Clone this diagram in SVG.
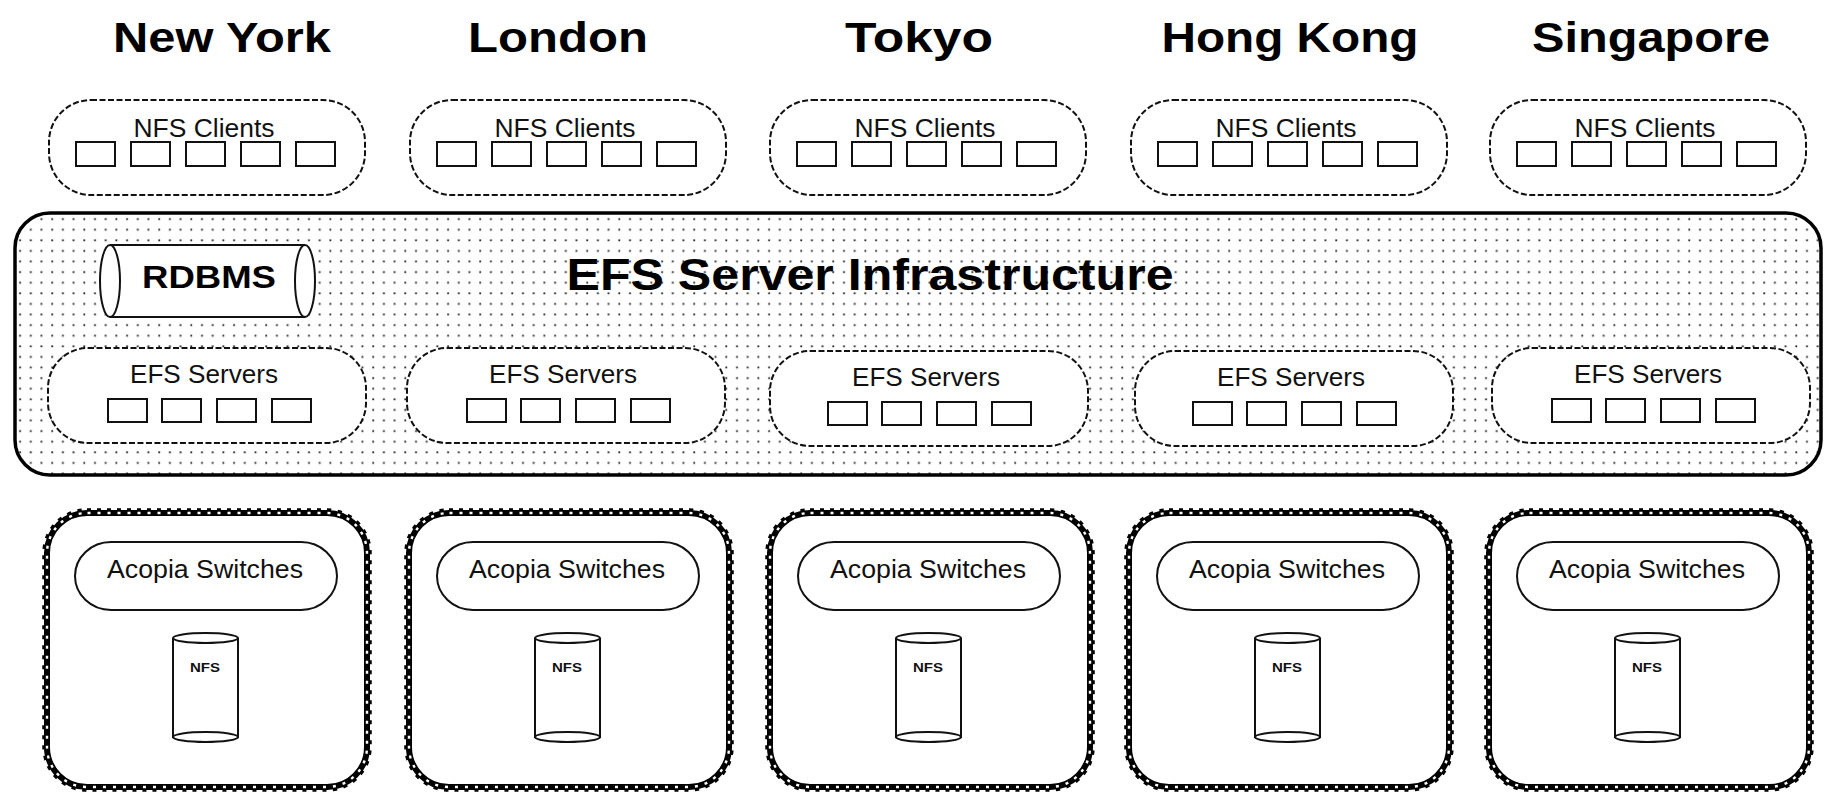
<svg xmlns="http://www.w3.org/2000/svg" width="1824" height="794" viewBox="0 0 1824 794">
<defs>
<pattern id="dots" x="15" y="213" width="10.7" height="10.6" patternUnits="userSpaceOnUse">
<rect width="10.7" height="10.6" fill="#fff"/>
<rect x="4.2" y="5.2" width="1.8" height="1.8" fill="#222"/>
</pattern>
<style>
.title{font-family:"Liberation Sans",Arial,sans-serif;font-weight:bold;font-size:43px;fill:#000;text-anchor:middle}
.lbl{font-family:"Liberation Sans",Arial,sans-serif;font-size:25px;fill:#111;text-anchor:middle}
.big{font-family:"Liberation Sans",Arial,sans-serif;font-weight:bold;font-size:44px;fill:#000;text-anchor:middle}
.db{font-family:"Liberation Sans",Arial,sans-serif;font-weight:bold;font-size:32px;fill:#000;text-anchor:middle}
.nfs{font-family:"Liberation Sans",Arial,sans-serif;font-weight:bold;font-size:13px;fill:#111;text-anchor:middle}
.dpill{fill:#fff;stroke:#111;stroke-width:2;stroke-dasharray:6 2.5}
.box{fill:#fff;stroke:#111;stroke-width:2}
.solid{fill:#fff;stroke:#111;stroke-width:2}
.chainBump{fill:none;stroke:#000;stroke-width:9.5;stroke-dasharray:4 6}
.chainA{fill:#fff;stroke:#000;stroke-width:6}
.chainB{fill:none;stroke:#fff;stroke-width:2.4;stroke-dasharray:3 7;stroke-dashoffset:-0.5}
</style>
</defs>
<rect width="1824" height="794" fill="#fff"/>

<!-- Titles -->
<g id="titles">
<text class="title" x="222" y="52" textLength="218" lengthAdjust="spacingAndGlyphs">New York</text>
<text class="title" x="558" y="52" textLength="180" lengthAdjust="spacingAndGlyphs">London</text>
<text class="title" x="919" y="52" textLength="148" lengthAdjust="spacingAndGlyphs">Tokyo</text>
<text class="title" x="1290" y="52" textLength="257" lengthAdjust="spacingAndGlyphs">Hong Kong</text>
<text class="title" x="1651" y="52" textLength="238" lengthAdjust="spacingAndGlyphs">Singapore</text>
</g>

<!-- NFS Clients -->
<g id="nfs-clients-ny" transform="translate(49,100)">
<rect class="dpill" x="0" y="0" width="316" height="95" rx="42"/>
<text class="lbl" x="155" y="37" textLength="141" lengthAdjust="spacingAndGlyphs">NFS Clients</text>
<rect class="box" x="27" y="42" width="39" height="24"/><rect class="box" x="82" y="42" width="39" height="24"/><rect class="box" x="137" y="42" width="39" height="24"/><rect class="box" x="192" y="42" width="39" height="24"/><rect class="box" x="247" y="42" width="39" height="24"/>
</g>
<g id="nfs-clients-london" transform="translate(410,100)">
<rect class="dpill" x="0" y="0" width="316" height="95" rx="42"/>
<text class="lbl" x="155" y="37" textLength="141" lengthAdjust="spacingAndGlyphs">NFS Clients</text>
<rect class="box" x="27" y="42" width="39" height="24"/><rect class="box" x="82" y="42" width="39" height="24"/><rect class="box" x="137" y="42" width="39" height="24"/><rect class="box" x="192" y="42" width="39" height="24"/><rect class="box" x="247" y="42" width="39" height="24"/>
</g>
<g id="nfs-clients-tokyo" transform="translate(770,100)">
<rect class="dpill" x="0" y="0" width="316" height="95" rx="42"/>
<text class="lbl" x="155" y="37" textLength="141" lengthAdjust="spacingAndGlyphs">NFS Clients</text>
<rect class="box" x="27" y="42" width="39" height="24"/><rect class="box" x="82" y="42" width="39" height="24"/><rect class="box" x="137" y="42" width="39" height="24"/><rect class="box" x="192" y="42" width="39" height="24"/><rect class="box" x="247" y="42" width="39" height="24"/>
</g>
<g id="nfs-clients-hk" transform="translate(1131,100)">
<rect class="dpill" x="0" y="0" width="316" height="95" rx="42"/>
<text class="lbl" x="155" y="37" textLength="141" lengthAdjust="spacingAndGlyphs">NFS Clients</text>
<rect class="box" x="27" y="42" width="39" height="24"/><rect class="box" x="82" y="42" width="39" height="24"/><rect class="box" x="137" y="42" width="39" height="24"/><rect class="box" x="192" y="42" width="39" height="24"/><rect class="box" x="247" y="42" width="39" height="24"/>
</g>
<g id="nfs-clients-sg" transform="translate(1490,100)">
<rect class="dpill" x="0" y="0" width="316" height="95" rx="42"/>
<text class="lbl" x="155" y="37" textLength="141" lengthAdjust="spacingAndGlyphs">NFS Clients</text>
<rect class="box" x="27" y="42" width="39" height="24"/><rect class="box" x="82" y="42" width="39" height="24"/><rect class="box" x="137" y="42" width="39" height="24"/><rect class="box" x="192" y="42" width="39" height="24"/><rect class="box" x="247" y="42" width="39" height="24"/>
</g>

<!-- EFS Server Infrastructure -->
<g id="efs-infrastructure">
<rect x="15" y="213" width="1806" height="262" rx="35" fill="url(#dots)" stroke="#000" stroke-width="3.5"/>
<text class="big" x="870" y="290" textLength="607" lengthAdjust="spacingAndGlyphs">EFS Server Infrastructure</text>
</g>

<g id="rdbms">
<rect x="110" y="245" width="195" height="72" fill="#fff"/>
<line x1="110" y1="245" x2="305" y2="245" stroke="#111" stroke-width="2"/>
<line x1="110" y1="317" x2="305" y2="317" stroke="#111" stroke-width="2"/>
<ellipse cx="110" cy="281" rx="10" ry="36" fill="#fff" stroke="#111" stroke-width="2"/>
<ellipse cx="305" cy="281" rx="10" ry="36" fill="#fff" stroke="#111" stroke-width="2"/>
<text class="db" x="209" y="288" textLength="134" lengthAdjust="spacingAndGlyphs">RDBMS</text>
</g>

<g id="efs-servers-ny" transform="translate(48,348)">
<rect class="dpill" x="0" y="0" width="318" height="95" rx="40"/>
<text class="lbl" x="156" y="35" textLength="148" lengthAdjust="spacingAndGlyphs">EFS Servers</text>
<rect class="box" x="60" y="51" width="39" height="23"/><rect class="box" x="114" y="51" width="39" height="23"/><rect class="box" x="169" y="51" width="39" height="23"/><rect class="box" x="224" y="51" width="39" height="23"/>
</g>
<g id="efs-servers-london" transform="translate(407,348)">
<rect class="dpill" x="0" y="0" width="318" height="95" rx="40"/>
<text class="lbl" x="156" y="35" textLength="148" lengthAdjust="spacingAndGlyphs">EFS Servers</text>
<rect class="box" x="60" y="51" width="39" height="23"/><rect class="box" x="114" y="51" width="39" height="23"/><rect class="box" x="169" y="51" width="39" height="23"/><rect class="box" x="224" y="51" width="39" height="23"/>
</g>
<g id="efs-servers-tokyo" transform="translate(770,351)">
<rect class="dpill" x="0" y="0" width="318" height="95" rx="40"/>
<text class="lbl" x="156" y="35" textLength="148" lengthAdjust="spacingAndGlyphs">EFS Servers</text>
<rect class="box" x="58" y="51" width="39" height="23"/><rect class="box" x="112" y="51" width="39" height="23"/><rect class="box" x="167" y="51" width="39" height="23"/><rect class="box" x="222" y="51" width="39" height="23"/>
</g>
<g id="efs-servers-hk" transform="translate(1135,351)">
<rect class="dpill" x="0" y="0" width="318" height="95" rx="40"/>
<text class="lbl" x="156" y="35" textLength="148" lengthAdjust="spacingAndGlyphs">EFS Servers</text>
<rect class="box" x="58" y="51" width="39" height="23"/><rect class="box" x="112" y="51" width="39" height="23"/><rect class="box" x="167" y="51" width="39" height="23"/><rect class="box" x="222" y="51" width="39" height="23"/>
</g>
<g id="efs-servers-sg" transform="translate(1492,348)">
<rect class="dpill" x="0" y="0" width="318" height="95" rx="40"/>
<text class="lbl" x="156" y="35" textLength="148" lengthAdjust="spacingAndGlyphs">EFS Servers</text>
<rect class="box" x="60" y="51" width="39" height="23"/><rect class="box" x="114" y="51" width="39" height="23"/><rect class="box" x="169" y="51" width="39" height="23"/><rect class="box" x="224" y="51" width="39" height="23"/>
</g>

<!-- Acopia sites -->
<g id="acopia-ny" transform="translate(44,510)">
<rect class="chainBump" x="3" y="3" width="320" height="274" rx="40"/>
<rect class="chainA" x="3" y="3" width="320" height="274" rx="40"/>
<rect class="chainB" x="3" y="3" width="320" height="274" rx="40"/>
<rect class="solid" x="31" y="32" width="262" height="68" rx="36" ry="34"/>
<text class="lbl" x="161" y="68" font-size="24" textLength="196" lengthAdjust="spacingAndGlyphs">Acopia Switches</text>
<rect x="129" y="128" width="65" height="100" fill="#fff" stroke="none"/>
<line x1="129" y1="128" x2="129" y2="228" stroke="#111" stroke-width="2"/>
<line x1="194" y1="128" x2="194" y2="228" stroke="#111" stroke-width="2"/>
<ellipse cx="161.5" cy="128" rx="32.5" ry="5" fill="#fff" stroke="#111" stroke-width="2"/>
<ellipse cx="161.5" cy="227" rx="32.5" ry="5" fill="#fff" stroke="#111" stroke-width="2"/>
<text class="nfs" x="161" y="162" textLength="30" lengthAdjust="spacingAndGlyphs">NFS</text>
</g>
<g id="acopia-london" transform="translate(406,510)">
<rect class="chainBump" x="3" y="3" width="320" height="274" rx="40"/>
<rect class="chainA" x="3" y="3" width="320" height="274" rx="40"/>
<rect class="chainB" x="3" y="3" width="320" height="274" rx="40"/>
<rect class="solid" x="31" y="32" width="262" height="68" rx="36" ry="34"/>
<text class="lbl" x="161" y="68" font-size="24" textLength="196" lengthAdjust="spacingAndGlyphs">Acopia Switches</text>
<rect x="129" y="128" width="65" height="100" fill="#fff" stroke="none"/>
<line x1="129" y1="128" x2="129" y2="228" stroke="#111" stroke-width="2"/>
<line x1="194" y1="128" x2="194" y2="228" stroke="#111" stroke-width="2"/>
<ellipse cx="161.5" cy="128" rx="32.5" ry="5" fill="#fff" stroke="#111" stroke-width="2"/>
<ellipse cx="161.5" cy="227" rx="32.5" ry="5" fill="#fff" stroke="#111" stroke-width="2"/>
<text class="nfs" x="161" y="162" textLength="30" lengthAdjust="spacingAndGlyphs">NFS</text>
</g>
<g id="acopia-tokyo" transform="translate(767,510)">
<rect class="chainBump" x="3" y="3" width="320" height="274" rx="40"/>
<rect class="chainA" x="3" y="3" width="320" height="274" rx="40"/>
<rect class="chainB" x="3" y="3" width="320" height="274" rx="40"/>
<rect class="solid" x="31" y="32" width="262" height="68" rx="36" ry="34"/>
<text class="lbl" x="161" y="68" font-size="24" textLength="196" lengthAdjust="spacingAndGlyphs">Acopia Switches</text>
<rect x="129" y="128" width="65" height="100" fill="#fff" stroke="none"/>
<line x1="129" y1="128" x2="129" y2="228" stroke="#111" stroke-width="2"/>
<line x1="194" y1="128" x2="194" y2="228" stroke="#111" stroke-width="2"/>
<ellipse cx="161.5" cy="128" rx="32.5" ry="5" fill="#fff" stroke="#111" stroke-width="2"/>
<ellipse cx="161.5" cy="227" rx="32.5" ry="5" fill="#fff" stroke="#111" stroke-width="2"/>
<text class="nfs" x="161" y="162" textLength="30" lengthAdjust="spacingAndGlyphs">NFS</text>
</g>
<g id="acopia-hk" transform="translate(1126,510)">
<rect class="chainBump" x="3" y="3" width="320" height="274" rx="40"/>
<rect class="chainA" x="3" y="3" width="320" height="274" rx="40"/>
<rect class="chainB" x="3" y="3" width="320" height="274" rx="40"/>
<rect class="solid" x="31" y="32" width="262" height="68" rx="36" ry="34"/>
<text class="lbl" x="161" y="68" font-size="24" textLength="196" lengthAdjust="spacingAndGlyphs">Acopia Switches</text>
<rect x="129" y="128" width="65" height="100" fill="#fff" stroke="none"/>
<line x1="129" y1="128" x2="129" y2="228" stroke="#111" stroke-width="2"/>
<line x1="194" y1="128" x2="194" y2="228" stroke="#111" stroke-width="2"/>
<ellipse cx="161.5" cy="128" rx="32.5" ry="5" fill="#fff" stroke="#111" stroke-width="2"/>
<ellipse cx="161.5" cy="227" rx="32.5" ry="5" fill="#fff" stroke="#111" stroke-width="2"/>
<text class="nfs" x="161" y="162" textLength="30" lengthAdjust="spacingAndGlyphs">NFS</text>
</g>
<g id="acopia-sg" transform="translate(1486,510)">
<rect class="chainBump" x="3" y="3" width="320" height="274" rx="40"/>
<rect class="chainA" x="3" y="3" width="320" height="274" rx="40"/>
<rect class="chainB" x="3" y="3" width="320" height="274" rx="40"/>
<rect class="solid" x="31" y="32" width="262" height="68" rx="36" ry="34"/>
<text class="lbl" x="161" y="68" font-size="24" textLength="196" lengthAdjust="spacingAndGlyphs">Acopia Switches</text>
<rect x="129" y="128" width="65" height="100" fill="#fff" stroke="none"/>
<line x1="129" y1="128" x2="129" y2="228" stroke="#111" stroke-width="2"/>
<line x1="194" y1="128" x2="194" y2="228" stroke="#111" stroke-width="2"/>
<ellipse cx="161.5" cy="128" rx="32.5" ry="5" fill="#fff" stroke="#111" stroke-width="2"/>
<ellipse cx="161.5" cy="227" rx="32.5" ry="5" fill="#fff" stroke="#111" stroke-width="2"/>
<text class="nfs" x="161" y="162" textLength="30" lengthAdjust="spacingAndGlyphs">NFS</text>
</g>

<g id="connectors"></g>
</svg>
